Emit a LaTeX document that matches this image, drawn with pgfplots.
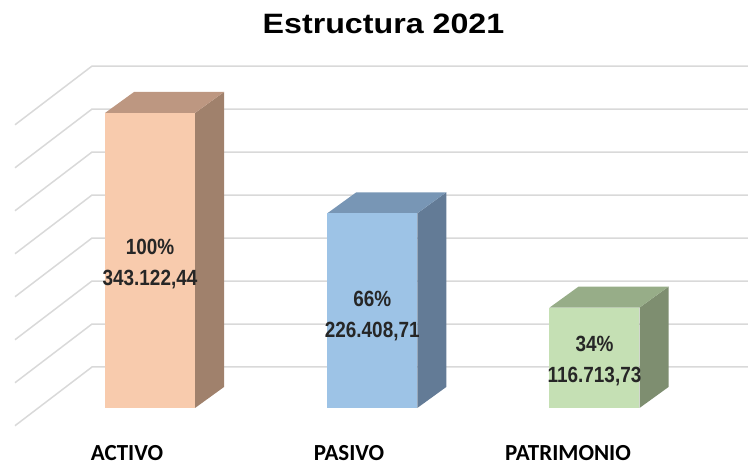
\documentclass[border=0pt]{standalone}
\usepackage{pgfplots}
\pgfplotsset{compat=1.18}
\usepackage{fontspec}
\setmainfont{Liberation Sans}
\newfontfamily\carlito{Carlito}
\newfontfamily\lblfont[FakeStretch=0.86]{Liberation Sans}
\newfontfamily\titlefont[FakeStretch=1.15]{Liberation Sans}
\definecolor{gridc}{RGB}{217,217,217}
\definecolor{actF}{RGB}{248,203,173}
\definecolor{actT}{RGB}{189,151,129}
\definecolor{actS}{RGB}{160,129,108}
\definecolor{pasF}{RGB}{157,195,230}
\definecolor{pasT}{RGB}{120,150,181}
\definecolor{pasS}{RGB}{99,123,150}
\definecolor{patF}{RGB}{197,224,180}
\definecolor{patT}{RGB}{151,173,136}
\definecolor{patS}{RGB}{126,142,112}
\begin{document}
\begin{tikzpicture}
\path[use as bounding box] (0,0) rectangle (748pt,466pt);
\begin{axis}[
  at={(0,0)}, anchor=south west,
  width=748pt, height=466pt, scale only axis,
  xmin=-0.6749, xmax=2.6907,
  ymin=-67460, ymax=474545,
  axis line style={draw=none},
  tick style={draw=none},
  major tick length=0pt,
  ytick=\empty,
  xtick={-0.1035,0.8954,1.8808},
  xticklabels={ACTIVO,PASIVO,PATRIMONIO},
  xticklabel style={font=\carlito\bfseries\fontsize{23}{23}\selectfont, anchor=base, inner sep=0pt, yshift=5pt},
  title={Estructura 2021},
  title style={at={(0.5127,1)}, anchor=base, yshift=-40pt, inner sep=0pt, font=\titlefont\bfseries\fontsize{28}{28}\selectfont},
  clip=false,
  scaled y ticks=false,
]
% grid lines (left wall diagonal + back wall horizontal)
\addplot[gridc, line width=1.5pt, mark=none] coordinates {(-0.6074,-20587) (-0.2610,47687) (2.6907,47687)};
\addplot[gridc, line width=1.5pt, mark=none] coordinates {(-0.6074,29413) (-0.2610,97687) (2.6907,97687)};
\addplot[gridc, line width=1.5pt, mark=none] coordinates {(-0.6074,79413) (-0.2610,147687) (2.6907,147687)};
\addplot[gridc, line width=1.5pt, mark=none] coordinates {(-0.6074,129413) (-0.2610,197687) (2.6907,197687)};
\addplot[gridc, line width=1.5pt, mark=none] coordinates {(-0.6074,179413) (-0.2610,247687) (2.6907,247687)};
\addplot[gridc, line width=1.5pt, mark=none] coordinates {(-0.6074,229413) (-0.2610,297687) (2.6907,297687)};
\addplot[gridc, line width=1.5pt, mark=none] coordinates {(-0.6074,279413) (-0.2610,347687) (2.6907,347687)};
\addplot[gridc, line width=1.5pt, mark=none] coordinates {(-0.6074,329413) (-0.2610,397687) (2.6907,397687)};
% ACTIVO
\addplot[fill=actS, draw=none, mark=none] coordinates {(0.2025,0) (0.2025,343122.44) (0.3330,367547) (0.3330,24425)};
\addplot[fill=actT, draw=none, mark=none] coordinates {(-0.2025,343122.44) (0.2025,343122.44) (0.3330,367547) (-0.0720,367547)};
\addplot[ybar, bar width=90pt, fill=actF, draw=none] coordinates {(0,343122.44)};
% PASIVO
\addplot[fill=pasS, draw=none, mark=none] coordinates {(1.2025,0) (1.2025,226408.71) (1.3330,250834) (1.3330,24425)};
\addplot[fill=pasT, draw=none, mark=none] coordinates {(0.7975,226408.71) (1.2025,226408.71) (1.3330,250834) (0.9280,250834)};
\addplot[ybar, bar width=90pt, fill=pasF, draw=none] coordinates {(1,226408.71)};
% PATRIMONIO
\addplot[fill=patS, draw=none, mark=none] coordinates {(2.2025,0) (2.2025,116713.73) (2.3330,141139) (2.3330,24425)};
\addplot[fill=patT, draw=none, mark=none] coordinates {(1.7975,116713.73) (2.2025,116713.73) (2.3330,141139) (1.9280,141139)};
\addplot[ybar, bar width=90pt, fill=patF, draw=none] coordinates {(2,116713.73)};
% data labels
\addplot[draw=none, mark=none, point meta=explicit symbolic, nodes near coords,
  nodes near coords style={anchor=center, align=center, inner sep=0pt, font=\lblfont\bfseries\fontsize{22}{31}\selectfont, text=black!85}]
  coordinates {(0,167486)[100\%\\343.122,44] (1,107005)[66\%\\226.408,71] (2,54666)[34\%\\116.713,73]};
\end{axis}
\end{tikzpicture}
\end{document}
